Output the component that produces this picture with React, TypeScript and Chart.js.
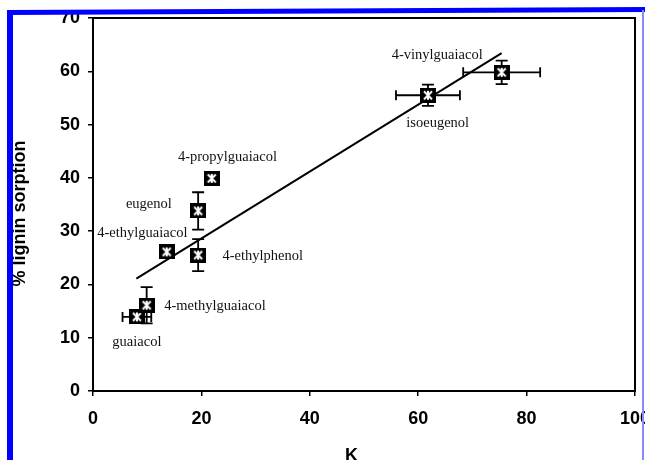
import React, { useEffect, useRef } from "react";
import { Chart, registerables } from "chart.js";

Chart.register(...registerables);

// Compounds, partition coefficient (x) and % lignin sorption (y)
const compounds = [
  "guaiacol",
  "4-methylguaiacol",
  "4-ethylguaiacol",
  "eugenol",
  "4-propylguaiacol",
  "4-ethylphenol",
  "isoeugenol",
  "4-vinylguaiacol",
];
const kValues = [8.1, 9.9, 13.6, 19.4, 21.9, 19.4, 61.8, 75.4];
const sorption = [13.9, 16.1, 26.1, 33.8, 39.9, 25.5, 55.5, 59.8];
const kError = [2.65, 0, 0, 0, 0, 0, 5.9, 7.1];
const sorptionError = [0, 3.4, 0, 3.5, 0, 3.0, 2.0, 2.2];

// Where each compound name is written (data units)
const labelX = [8.1, 22.5, 9.1, 10.3, 24.8, 31.3, 63.6, 63.5];
const labelY = [9.2, 16.0, 29.7, 35.1, 43.9, 25.3, 50.3, 63.0];

// Linear fit end points
const fitX = [8.0, 75.4];
const fitY = [21.1, 63.4];

const xTicks = [0, 20, 40, 60, 80, 100];
const yTicks = [0, 10, 20, 30, 40, 50, 60, 70];

// Filled black square with a white asterisk
function makeMarker(): HTMLCanvasElement {
  const c = document.createElement("canvas");
  c.width = 16;
  c.height = 15;
  const g = c.getContext("2d")!;
  g.fillStyle = "#000";
  g.fillRect(0, 0, 16, 15);
  g.strokeStyle = "#fff";
  g.lineWidth = 2;
  g.lineCap = "butt";
  g.beginPath();
  g.moveTo(4, 3.5);
  g.lineTo(12, 11.5);
  g.moveTo(12, 3.5);
  g.lineTo(4, 11.5);
  g.moveTo(8, 3);
  g.lineTo(8, 12);
  g.stroke();
  return c;
}

const decorPlugin = {
  id: "decor",
  beforeDatasetsDraw(chart: any) {
    const { ctx, chartArea: a, scales } = chart;
    const xs = scales.x;
    const ys = scales.y;
    ctx.save();
    // plot frame
    ctx.strokeStyle = "#000";
    ctx.lineWidth = 2;
    ctx.strokeRect(a.left, a.top, a.right - a.left, a.bottom - a.top);
    // error bars
    ctx.lineWidth = 1.8;
    ctx.beginPath();
    kValues.forEach((xv, i) => {
      const px = xs.getPixelForValue(xv);
      const py = ys.getPixelForValue(sorption[i]);
      if (kError[i] > 0) {
        const l = xs.getPixelForValue(xv - kError[i]);
        const r = xs.getPixelForValue(xv + kError[i]);
        ctx.moveTo(l, py);
        ctx.lineTo(r, py);
        ctx.moveTo(l, py - 5);
        ctx.lineTo(l, py + 5);
        ctx.moveTo(r, py - 5);
        ctx.lineTo(r, py + 5);
      }
      if (sorptionError[i] > 0) {
        const t = ys.getPixelForValue(sorption[i] + sorptionError[i]);
        const b = ys.getPixelForValue(sorption[i] - sorptionError[i]);
        ctx.moveTo(px, t);
        ctx.lineTo(px, b);
        ctx.moveTo(px - 6, t);
        ctx.lineTo(px + 6, t);
        ctx.moveTo(px - 6, b);
        ctx.lineTo(px + 6, b);
      }
    });
    ctx.stroke();
    ctx.restore();
  },
  afterDraw(chart: any) {
    const { ctx, scales, width, height } = chart;
    const xs = scales.x;
    const ys = scales.y;
    ctx.save();
    // compound names
    ctx.fillStyle = "#111";
    ctx.font = '14.5px "Liberation Serif", "Times New Roman", serif';
    ctx.textAlign = "center";
    ctx.textBaseline = "middle";
    compounds.forEach((name, i) => {
      ctx.fillText(name, xs.getPixelForValue(labelX[i]), ys.getPixelForValue(labelY[i]));
    });
    // axis titles
    ctx.fillStyle = "#000";
    ctx.font = 'bold 18px "Liberation Sans", Arial, sans-serif';
    ctx.textAlign = "left";
    ctx.textBaseline = "alphabetic";
    ctx.fillText("K", 345, 461);
    ctx.font = 'bold 12px "Liberation Sans", Arial, sans-serif';
    ctx.fillText("lignin", 359, 470);
    ctx.save();
    ctx.translate(25, 213.5);
    ctx.rotate(-Math.PI / 2);
    ctx.font = 'bold 18px "Liberation Sans", Arial, sans-serif';
    ctx.textAlign = "center";
    ctx.fillText("% lignin sorption", 0, 0);
    ctx.restore();
    // page frame
    ctx.fillStyle = "#ffffff";
    ctx.fillRect(0, 0, width, 8);
    ctx.fillRect(0, 0, 7, height);
    ctx.fillStyle = "#0000ff";
    ctx.fillRect(7, 10, 6, height - 10);
    ctx.beginPath();
    ctx.moveTo(7, 10);
    ctx.lineTo(width, 7);
    ctx.lineTo(width, 12);
    ctx.lineTo(7, 15);
    ctx.closePath();
    ctx.fill();
    ctx.fillStyle = "#8a8aff";
    ctx.fillRect(642, 10, 2, height - 10);
    ctx.restore();
  },
};

export default function App() {
  const ref = useRef<HTMLCanvasElement>(null);

  useEffect(() => {
    const canvas = ref.current!;
    const marker = makeMarker();
    const chart = new Chart(canvas, {
      type: "scatter",
      data: {
        datasets: [
          {
            label: "compounds",
            data: kValues.map((x, i) => ({ x, y: sorption[i] })),
            pointStyle: marker as any,
            pointRadius: 8,
            pointHoverRadius: 8,
            showLine: false,
          },
          {
            type: "line",
            label: "fit",
            data: fitX.map((x, i) => ({ x, y: fitY[i] })),
            borderColor: "#000",
            borderWidth: 2,
            pointRadius: 0,
            showLine: true,
            fill: false,
          } as any,
        ],
      },
      options: {
        responsive: false,
        animation: false,
        devicePixelRatio: 1,
        layout: { padding: { top: 18, right: 10, left: 0, bottom: 0 } },
        plugins: { legend: { display: false }, tooltip: { enabled: false } },
        scales: {
          x: {
            type: "linear",
            min: 0,
            max: 100,
            afterBuildTicks: (s: any) => {
              s.ticks = xTicks.map((v) => ({ value: v }));
            },
            afterFit: (s: any) => {
              s.height = 69;
              s.paddingLeft = 0;
              s.paddingRight = 0;
              s.paddingTop = 0;
              s.paddingBottom = 0;
            },
            grid: { drawOnChartArea: false, tickLength: 5, color: "#000", lineWidth: 1.5 },
            border: { display: false },
            ticks: {
              color: "#000",
              padding: 12,
              maxRotation: 0,
              autoSkip: false,
              font: { family: '"Liberation Sans", Arial, sans-serif', size: 18, weight: "bold" },
            },
          },
          y: {
            type: "linear",
            min: 0,
            max: 70,
            afterBuildTicks: (s: any) => {
              s.ticks = yTicks.map((v) => ({ value: v }));
            },
            afterFit: (s: any) => {
              s.width = 93;
              s.paddingLeft = 0;
              s.paddingRight = 0;
              s.paddingTop = 0;
              s.paddingBottom = 0;
            },
            grid: { drawOnChartArea: false, tickLength: 5, color: "#000", lineWidth: 1.5 },
            border: { display: false },
            ticks: {
              color: "#000",
              padding: 8,
              autoSkip: false,
              font: { family: '"Liberation Sans", Arial, sans-serif', size: 18, weight: "bold" },
            },
          },
        },
      },
      plugins: [decorPlugin],
    });
    return () => chart.destroy();
  }, []);

  return (
    <div style={{ position: "fixed", left: 0, top: 0, width: 645, height: 460, background: "#fff" }}>
      <canvas ref={ref} width={645} height={460} style={{ display: "block" }} />
    </div>
  );
}
